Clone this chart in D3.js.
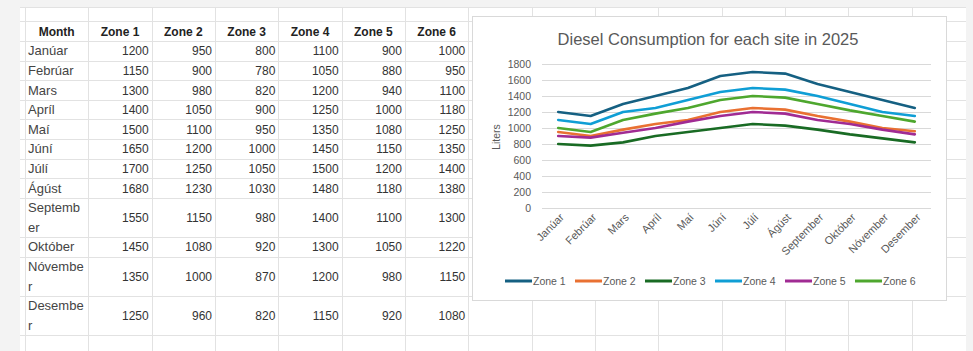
<!DOCTYPE html>
<html><head><meta charset="utf-8">
<script src="https://cdn.jsdelivr.net/npm/d3@7"></script>
<style>html,body{margin:0;padding:0;background:#f3f3f3;overflow:hidden}svg{display:block}</style>
</head><body><svg id="c" width="973" height="351"></svg>
<script>
const months = ["Janúar","Febrúar","Mars","Apríl","Maí","Júní","Júlí","Ágúst","September","Október","Nóvember","Desember"];
const tableMonthLines = [["Janúar"],["Febrúar"],["Mars"],["Apríl"],["Maí"],["Júní"],["Júlí"],["Ágúst"],["Septemb","er"],["Október"],["Nóvembe","r"],["Desembe","r"]];
const seriesNames = ["Zone 1","Zone 2","Zone 3","Zone 4","Zone 5","Zone 6"];
const zone1 = [1200,1150,1300,1400,1500,1650,1700,1680,1550,1450,1350,1250];
const zone2 = [950,900,980,1050,1100,1200,1250,1230,1150,1080,1000,960];
const zone3 = [800,780,820,900,950,1000,1050,1030,980,920,870,820];
const zone4 = [1100,1050,1200,1250,1350,1450,1500,1480,1400,1300,1200,1150];
const zone5 = [900,880,940,1000,1080,1150,1200,1180,1100,1050,980,920];
const zone6 = [1000,950,1100,1180,1250,1350,1400,1380,1300,1220,1150,1080];
const yTicks = [0,200,400,600,800,1000,1200,1400,1600,1800];
const colors = ["#156082","#E97132","#196B24","#0F9ED5","#A02B93","#4EA72E"];
const title = "Diesel Consumption for each site in 2025";
const yTitle = "Liters";

const zones = [zone1,zone2,zone3,zone4,zone5,zone6];
const svg = d3.select("#c");
const FONT = "'Liberation Sans', Arial, sans-serif";

// sheet background
svg.append("rect").attr("x",20).attr("y",7).attr("width",946).attr("height",351).attr("fill","#fff");

// row geometry
const headerTop = 21, headerH = 20, lineH = 19.6;
const rows = [];
let yy = headerTop + headerH;
tableMonthLines.forEach((l,i)=>{ const h = l.length>1 ? 2*lineH : lineH; rows.push({i, top:yy, h}); yy += h; });
const rowEdges = [7, headerTop, headerTop+headerH].concat(rows.map(r=>r.top+r.h));
const colW = 63.33, col0 = 25;
const colEdges = d3.range(0,16).map(k=>col0+k*colW).filter(x=>x<966);

const grid = svg.append("g").attr("stroke","#e2e2e2").attr("stroke-width",1).attr("shape-rendering","crispEdges");
rowEdges.forEach(y=>grid.append("line").attr("x1",20).attr("x2",966).attr("y1",Math.round(y)+0.5).attr("y2",Math.round(y)+0.5));
colEdges.forEach(x=>grid.append("line").attr("x1",Math.round(x)+0.5).attr("x2",Math.round(x)+0.5).attr("y1",7).attr("y2",351));

// table
const tbl = svg.append("g").attr("font-family",FONT).attr("font-size","12px");
const headers = ["Month"].concat(seriesNames);
headers.forEach((h,k)=>{
  tbl.append("text").attr("x",col0+k*colW+colW/2).attr("y",headerTop+headerH/2+4.5)
    .attr("text-anchor","middle").attr("font-weight","bold").attr("fill","#222").text(h);
});
rows.forEach(r=>{
  const cy = r.top + r.h/2;
  const lines = tableMonthLines[r.i];
  lines.forEach((t,j)=>{
    const ty = lines.length>1 ? cy + (j===0?-10:10) + 4.5 : cy + 4.5;
    tbl.append("text").attr("x",col0+3).attr("y",ty).attr("font-size","13px").attr("fill","#444").text(t);
  });
  zones.forEach((z,k)=>{
    tbl.append("text").attr("x",col0+(k+2)*colW-3).attr("y",cy+4.5).attr("text-anchor","end").attr("fill","#333").text(z[r.i]);
  });
});

// chart box
const box = {x:472,y:16,w:474,h:284};
svg.append("rect").attr("x",box.x+1).attr("y",box.y+1).attr("width",box.w).attr("height",box.h).attr("fill","#e8e8e8");
svg.append("rect").attr("x",box.x+0.5).attr("y",box.y+0.5).attr("width",box.w).attr("height",box.h).attr("fill","#fff").attr("stroke","#d9d9d9");

const x = d3.scalePoint().domain(months).range([542,931]).padding(0.5);
const y = d3.scaleLinear().domain([0,1800]).range([208,64]);

const ch = svg.append("g").attr("font-family",FONT);
ch.append("text").attr("x",708).attr("y",45).attr("text-anchor","middle")
  .attr("font-size","16.5px").attr("fill","#595959").text(title);

const yAxis = ch.append("g").attr("transform","translate(542,0)")
  .call(d3.axisLeft(y).tickValues(yTicks).tickFormat(d3.format("d")).tickSize(-389).tickPadding(11));
yAxis.select(".domain").remove();
yAxis.selectAll(".tick line").attr("stroke","#d9d9d9").attr("shape-rendering","crispEdges");
yAxis.selectAll(".tick text").attr("font-size","10.5px").attr("fill","#595959").attr("font-family",FONT);

const xAxis = ch.append("g").attr("transform","translate(0,208)")
  .call(d3.axisBottom(x).tickSize(0).tickPadding(0));
xAxis.select(".domain").remove();
xAxis.selectAll(".tick text").attr("font-size","11px").attr("fill","#595959").attr("font-family",FONT)
  .attr("text-anchor","end").attr("dy",0).attr("transform","translate(6,10) rotate(-45)");

ch.append("text").attr("transform","translate(500,137) rotate(-90)").attr("text-anchor","middle")
  .attr("font-size","10.5px").attr("fill","#595959").text(yTitle);

const line = d3.line().x((d,i)=>x(months[i])).y(d=>y(d));
zones.forEach((z,k)=>{
  ch.append("path").datum(z).attr("d",line).attr("fill","none").attr("stroke",colors[k])
    .attr("stroke-width",2.6).attr("stroke-linejoin","round").attr("stroke-linecap","round");
});

// legend
const lg = ch.append("g").attr("font-size","10.5px");
seriesNames.forEach((n,k)=>{
  const lx = 505 + k*70;
  lg.append("line").attr("x1",lx).attr("x2",lx+27).attr("y1",281).attr("y2",281).attr("stroke",colors[k]).attr("stroke-width",3);
  lg.append("text").attr("x",lx+28).attr("y",285).attr("fill","#595959").text(n);
});
</script></body></html>
